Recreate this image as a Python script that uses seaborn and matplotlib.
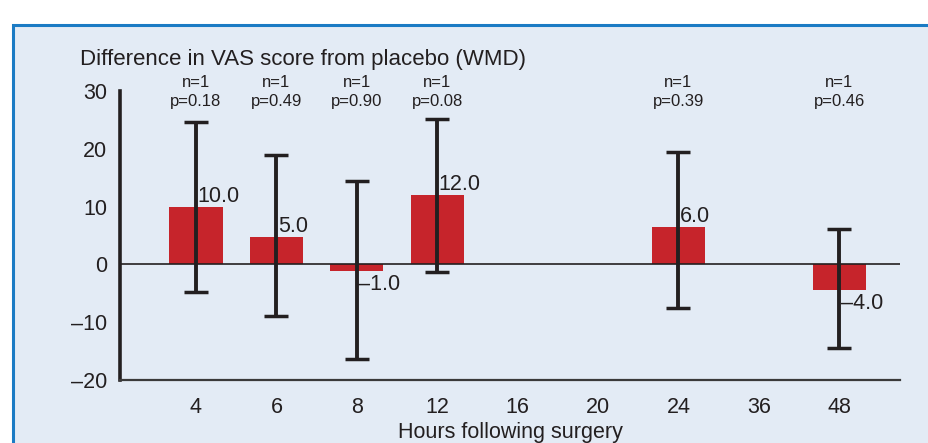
import pandas as pd
import matplotlib.pyplot as plt
from matplotlib.patches import Rectangle
from matplotlib.ticker import FuncFormatter
import seaborn as sns

# data
horas = ['4', '6', '8', '12', '16', '20', '24', '36', '48']
horas_barras = ['4', '6', '8', '12', '24', '48']
wmd = [10.0, 4.7, -1.1, 12.0, 6.4, -4.4]
ic_inf = [-4.7, -9.0, -16.3, -1.4, -7.5, -14.4]
ic_sup = [24.7, 19.0, 14.4, 25.2, 19.5, 6.2]
rotulos = ['10.0', '5.0', '–1.0', '12.0', '6.0', '–4.0']
n_estudos = ['n=1', 'n=1', 'n=1', 'n=1', 'n=1', 'n=1']
p_valores = ['p=0.18', 'p=0.49', 'p=0.90', 'p=0.08', 'p=0.39', 'p=0.46']

df = pd.DataFrame({'horas': horas_barras, 'wmd': wmd,
                   'inf': ic_inf, 'sup': ic_sup})

sns.set_style('white')
plt.rcParams['font.family'] = ['Liberation Sans', 'DejaVu Sans']

W, H = 929, 443
fig = plt.figure(figsize=(W / 100, H / 100), dpi=100)
fig.patch.set_facecolor('white')

# painel azul claro com borda
fig.patches.append(Rectangle((13 / W, -0.1), 1.1, 1 - 25 / H + 0.1,
                             transform=fig.transFigure, facecolor='#e3ebf5',
                             edgecolor='#1b7bc4', linewidth=2.2, zorder=-5))

ax = fig.add_axes([120 / W, (H - 380) / H, (900 - 120) / W, (380 - 91) / H])
ax.set_facecolor('none')

sns.barplot(data=df, x='horas', y='wmd', order=horas, color='#c6242b',
            saturation=1, width=0.66, errorbar=None, linewidth=0,
            ax=ax, zorder=2)

pos = [horas.index(h) for h in horas_barras]
ax.errorbar(pos, df['wmd'],
            yerr=[df['wmd'] - df['inf'], df['sup'] - df['wmd']],
            fmt='none', ecolor='#231f20', elinewidth=2.8, capsize=8.5,
            capthick=2.5, zorder=3)

ax.axhline(0, color='#231f20', lw=1.2, zorder=2.5)

# rotulos dos valores
for x, v, r in zip(pos, wmd, rotulos):
    if v >= 0:
        ax.text(x + 0.02, v, r, ha='left', va='bottom', fontsize=15.5,
                color='#231f20', zorder=4)
    else:
        ax.text(x + 0.02, v - 0.5, r, ha='left', va='top', fontsize=15.5,
                color='#231f20', zorder=4)

# n e p acima
tr = ax.get_xaxis_transform()
for x, n, p in zip(pos, n_estudos, p_valores):
    ax.text(x, 1.031, n, transform=tr, ha='center', va='center',
            fontsize=12, color='#231f20', clip_on=False)
    ax.text(x, 0.965, p, transform=tr, ha='center', va='center',
            fontsize=12, color='#231f20', clip_on=False)

ax.set_ylim(-20, 30)
ax.set_xlim(-0.945, 8.756)
ax.set_yticks([-20, -10, 0, 10, 20, 30])
ax.yaxis.set_major_formatter(FuncFormatter(lambda v, p: f"{v:.0f}".replace('-', '–')))

for s in ['top', 'right']:
    ax.spines[s].set_visible(False)
ax.spines['left'].set_linewidth(2.6)
ax.spines['left'].set_color('#231f20')
ax.spines['bottom'].set_linewidth(1.6)
ax.spines['bottom'].set_color('#3a3a3a')

ax.tick_params(axis='y', direction='out', length=5, width=1.5, pad=4,
               labelsize=15.5, colors='#231f20')
ax.tick_params(axis='x', direction='out', length=6, width=2.5, pad=6,
               labelsize=15.5, colors='#231f20')
ax.set_ylabel('')
ax.set_xlabel('Hours following surgery', fontsize=15.5, color='#231f20',
              labelpad=3)

fig.text(80 / W, 1 - 59 / H, 'Difference in VAS score from placebo (WMD)',
         ha='left', va='center', fontsize=16, color='#231f20')

fig.savefig('out.png', dpi=100)
